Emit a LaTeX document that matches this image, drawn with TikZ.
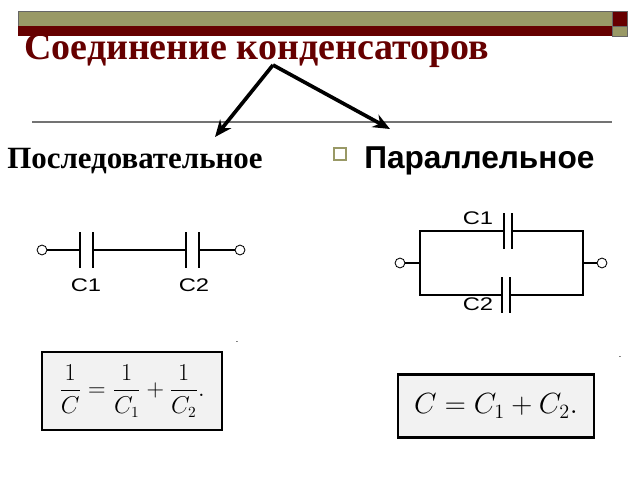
\documentclass[tikz,border=0pt]{standalone}
\usepackage{amsmath}
\usepackage{fontspec}
\usetikzlibrary{arrows.meta}
\setmainfont{Liberation Serif}
\setsansfont{Liberation Sans}
\definecolor{olivebar}{RGB}{153,153,102}
\definecolor{darkred}{RGB}{102,0,0}
\begin{document}
\begin{tikzpicture}[x=0.025cm,y=-0.025cm,
  wire/.style={line width=0.8pt},
  plate/.style={line width=1.4pt},
  term/.style={circle,draw,line width=0.6pt,inner sep=0pt,minimum size=7pt,fill=white},
  caplabel/.style={font=\sffamily\fontsize{13pt}{13pt}\selectfont,xscale=1.3},
  formbox/.style={draw,line width=1.8pt,fill=black!5,inner sep=0pt}]
  \useasboundingbox (0,0) rectangle (640,480);
  % header bars
  \fill[olivebar,draw=black!60] (18,11) rectangle (612,26);
  \fill[darkred] (18,26) rectangle (612,36);
  \fill[darkred,draw=black!60] (612,11) rectangle (627,26);
  \fill[olivebar,draw=black!60] (612,26) rectangle (627,36);
  \node[text=darkred,font=\bfseries\fontsize{27pt}{27pt}\selectfont,anchor=base west,inner sep=0pt] (title) at (24,60) {Соединение конденсаторов};
  \draw[black!55,line width=0.9pt] (32,122) -- (612,122);
  \coordinate (top) at (273,65);
  \coordinate (left) at (215,137);
  \coordinate (right) at (390,129);
  \draw[line width=2.6pt,-{Stealth[length=12pt,width=10pt]}] (top) -- (left);
  \draw[line width=2.6pt,-{Stealth[length=12pt,width=10pt]}] (top) -- (right);
  \node[font=\bfseries\fontsize{22pt}{22pt}\selectfont,anchor=base west,inner sep=0pt] (ser) at (7,168) {Последовательное};
  \node[draw=olivebar,line width=1.2pt,minimum size=9pt,inner sep=0pt] (bul) at (340,154) {};
  \node[font=\sffamily\bfseries\fontsize{22.5pt}{22.5pt}\selectfont,anchor=base west,inner sep=0pt] (par) at (364,168) {Параллельное};
  % series circuit
  \node[term] (a) at (42,250) {};
  \node[term] (b) at (240,250) {};
  \coordinate (p1) at (80,250); \coordinate (p2) at (93,250);
  \coordinate (p3) at (186,250); \coordinate (p4) at (199,250);
  \draw[wire] (a) -- (p1) (p2) -- (p3) (p4) -- (b);
  \draw[plate] (80,232) -- (80,268) (93,232) -- (93,268) (186,232) -- (186,268) (199,232) -- (199,268);
  \node[caplabel] (c1s) at (86,285) {C1};
  \node[caplabel] (c2s) at (194,285) {C2};
  % parallel circuit
  \node[term] (c) at (400,263) {};
  \node[term] (d) at (602,263) {};
  \draw[wire] (c) -- (420,263) -- (420,231) -- (504,231) (512,231) -- (583,231) -- (583,295) -- (510,295)
    (502,295) -- (420,295) -- (420,263) (583,263) -- (d);
  \draw[plate] (504,213) -- (504,249) (512,213) -- (512,249) (502,277) -- (502,313) (510,277) -- (510,313);
  \node[caplabel] (c1p) at (478,218) {C1};
  \node[caplabel] (c2p) at (478,304) {C2};
  % formulas
  \node[formbox,minimum width=180*0.025cm,minimum height=78*0.025cm] (f1) at (132,391)
    {\fontsize{16pt}{16pt}\selectfont $\dfrac{1}{C}=\dfrac{1}{C_1}+\dfrac{1}{C_2}.$};
  \node[formbox,minimum width=196*0.025cm,minimum height=63*0.025cm] (f2) at (496,406)
    {\fontsize{20pt}{20pt}\selectfont $C=C_1+C_2.$};
  \node[font=\tiny] (m1) at (237,343) {-};
  \node[font=\tiny] (m2) at (620,358) {-};
\end{tikzpicture}
\end{document}
